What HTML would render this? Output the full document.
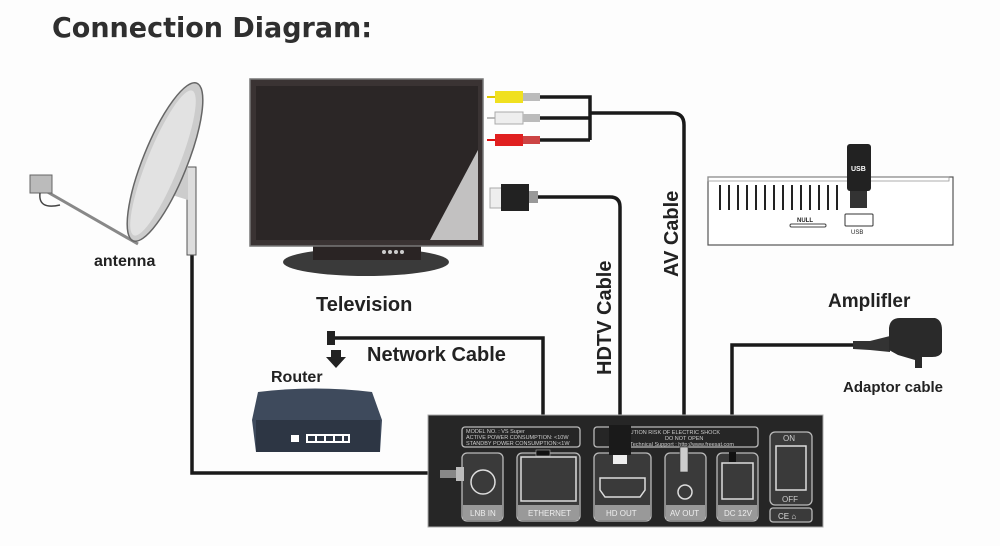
<!DOCTYPE html>
<html><head><meta charset="utf-8"><style>
html,body{margin:0;padding:0;background:#fff;}
svg{display:block;}
text{font-family:"Liberation Sans",Arial,sans-serif;font-weight:bold;fill:#222;}
</style></head><body>
<svg width="1000" height="546" viewBox="0 0 1000 546" xmlns="http://www.w3.org/2000/svg">
<rect width="1000" height="546" fill="#fdfdfd"/>
<text x="52" y="37" font-size="28" textLength="320" lengthAdjust="spacingAndGlyphs" style="font-family:'DejaVu Sans',sans-serif;fill:#2f2f2f">Connection Diagram:</text>

<!-- cables -->
<g fill="none" stroke="#1a1a1a" stroke-width="3.5">
<path d="M192 255 V473 H455"/>
<path d="M335 338 H543 V455"/>
<path d="M537 197 H610 Q620 197 620 207 V432"/>
<path d="M540 97 H590 V140 M540 118 H590 M540 140 H590 M590 113 H672 Q684 113 684 125 V452"/>
<path d="M853 345 H732 V458"/>
</g>

<!-- dish -->
<g>
<rect x="187" y="167" width="9" height="88" fill="#ddd" stroke="#555" stroke-width="1"/>
<polygon points="175,170 188,165 188,200 172,195" fill="#ccc"/>
<line x1="44" y1="190" x2="138" y2="244" stroke="#888" stroke-width="3"/>
<ellipse cx="165" cy="162" rx="22" ry="85" transform="rotate(22 165 162)" fill="#ccc" stroke="#666" stroke-width="1.5"/>
<ellipse cx="163" cy="163" rx="16" ry="78" transform="rotate(22 163 163)" fill="#e2e2e2"/>
<rect x="30" y="175" width="22" height="18" fill="#bbb" stroke="#666"/>
<path d="M40 193 Q38 210 60 205" fill="none" stroke="#444" stroke-width="1.5"/>
</g>
<text x="94" y="266" font-size="16">antenna</text>

<!-- TV -->
<ellipse cx="366" cy="262" rx="83" ry="14" fill="#3a3a3a"/>
<rect x="313" y="240" width="108" height="20" fill="#2a2424"/>
<circle cx="384" cy="252" r="2" fill="#ccc"/><circle cx="390" cy="252" r="2" fill="#ccc"/><circle cx="396" cy="252" r="2" fill="#ccc"/><circle cx="402" cy="252" r="2" fill="#ccc"/>
<rect x="250" y="79" width="233" height="167" fill="#3a3333" stroke="#777" stroke-width="1.5"/>
<rect x="256" y="86" width="222" height="154" fill="#2b2626"/>
<polygon points="478,150 478,240 430,240" fill="#ddd" opacity="0.85"/>
<text x="316" y="311" font-size="20">Television</text>

<!-- AV plugs -->
<g>
<line x1="487" y1="97" x2="495" y2="97" stroke="#e0c800" stroke-width="2"/>
<rect x="495" y="91" width="28" height="12" fill="#f0e020"/><rect x="523" y="93" width="17" height="8" fill="#bbb"/>
<line x1="487" y1="118" x2="495" y2="118" stroke="#bbb" stroke-width="2"/>
<rect x="495" y="112" width="28" height="12" fill="#eee" stroke="#aaa"/><rect x="523" y="114" width="17" height="8" fill="#bbb"/>
<line x1="487" y1="140" x2="495" y2="140" stroke="#d11" stroke-width="2"/>
<rect x="495" y="134" width="28" height="12" fill="#e02020"/><rect x="523" y="136" width="17" height="8" fill="#c44"/>
</g>
<!-- HDMI plug -->
<rect x="490" y="188" width="12" height="20" fill="#eee" stroke="#aaa"/>
<rect x="501" y="184" width="28" height="27" fill="#222"/>
<rect x="529" y="191" width="9" height="12" fill="#999"/>
<text x="0" y="0" font-size="20" transform="translate(611 375) rotate(-90)">HDTV Cable</text>
<text x="0" y="0" font-size="20" transform="translate(678 277) rotate(-90)">AV Cable</text>

<!-- network -->
<rect x="327" y="331" width="8" height="14" fill="#222"/>
<polygon points="331,350 341,350 341,357 346,357 336,368 326,357 331,357" fill="#222"/>
<text x="367" y="361" font-size="20">Network Cable</text>
<text x="271" y="382" font-size="16">Router</text>
<!-- router -->
<path d="M258 392 Q315 385 372 392 L382 420 L380 452 L256 452 L252 420 Z" fill="#3e4a5c"/>
<rect x="256" y="420" width="124" height="32" fill="#2d3644"/>
<g fill="#fff"><rect x="291" y="435" width="8" height="7"/><rect x="306" y="434" width="44" height="9"/></g>
<g fill="#2d3644"><rect x="308" y="436" width="7" height="5"/><rect x="317" y="436" width="7" height="5"/><rect x="326" y="436" width="7" height="5"/><rect x="335" y="436" width="7" height="5"/><rect x="344" y="436" width="4" height="5"/></g>

<!-- set-top front -->
<rect x="708" y="177" width="245" height="68" fill="#fff" stroke="#555" stroke-width="1.2"/>
<rect x="708" y="177" width="241" height="4" fill="none" stroke="#999" stroke-width="0.8"/>
<g stroke="#222" stroke-width="2">
<line x1="720" y1="185" x2="720" y2="210"/><line x1="729" y1="185" x2="729" y2="210"/><line x1="738" y1="185" x2="738" y2="210"/><line x1="747" y1="185" x2="747" y2="210"/><line x1="756" y1="185" x2="756" y2="210"/><line x1="765" y1="185" x2="765" y2="210"/><line x1="774" y1="185" x2="774" y2="210"/><line x1="783" y1="185" x2="783" y2="210"/><line x1="792" y1="185" x2="792" y2="210"/><line x1="801" y1="185" x2="801" y2="210"/><line x1="810" y1="185" x2="810" y2="210"/><line x1="819" y1="185" x2="819" y2="210"/><line x1="828" y1="185" x2="828" y2="210"/><line x1="837" y1="185" x2="837" y2="210"/>
</g>
<rect x="790" y="224" width="36" height="3" rx="1.5" fill="#fff" stroke="#444"/>
<text x="797" y="222" font-size="6">NULL</text>
<rect x="845" y="214" width="28" height="12" rx="1" fill="#fff" stroke="#333"/>
<text x="851" y="234" font-size="6" style="font-weight:normal">USB</text>
<rect x="847" y="144" width="24" height="47" rx="3" fill="#222"/>
<rect x="850" y="191" width="17" height="17" fill="#333"/>
<text x="851" y="171" font-size="7" style="fill:#fff">USB</text>

<!-- amplifier -->
<text x="828" y="307" font-size="19">Amplifler</text>
<text x="843" y="392" font-size="15">Adaptor cable</text>
<path d="M853 341 L870 341 L890 336 L890 352 L870 350 L853 349 Z" fill="#333"/>
<path d="M889 328 Q890 318 900 318 L935 318 Q942 320 942 330 L942 352 Q940 357 932 357 L922 357 L922 368 L915 368 L915 360 L898 355 L889 350 Z" fill="#2a2a2a"/>

<!-- back panel -->
<rect x="428" y="415" width="395" height="112" fill="#262626" stroke="#aaa" stroke-width="1"/>
<g fill="none" stroke="#bbb" stroke-width="1.3">
<rect x="462" y="427" width="118" height="20" rx="3"/>
<rect x="594" y="427" width="164" height="20" rx="3"/>
</g>
<g fill="#cfcfcf" style="font-weight:normal" font-size="5.5">
<text x="466" y="433" style="fill:#ccc;font-weight:normal">MODEL NO. : VS Super</text>
<text x="466" y="439" style="fill:#ccc;font-weight:normal">ACTIVE POWER CONSUMPTION: &lt;10W</text>
<text x="466" y="445" style="fill:#ccc;font-weight:normal">STANDBY POWER CONSUMPTION:&lt;1W</text>
<text x="622" y="434" style="fill:#ccc;font-weight:normal">CAUTION RISK OF ELECTRIC SHOCK</text>
<text x="665" y="440" style="fill:#ccc;font-weight:normal">DO NOT OPEN</text>
<text x="630" y="446" style="fill:#ccc;font-weight:normal">Technical Support : http://www.freesat.com</text>
</g>
<g fill="#3a3a3a" stroke="#bbb" stroke-width="1.3">
<rect x="462" y="453" width="41" height="68" rx="5"/>
<rect x="517" y="453" width="63" height="68" rx="5"/>
<rect x="594" y="453" width="57" height="68" rx="5"/>
<rect x="665" y="453" width="41" height="68" rx="5"/>
<rect x="717" y="453" width="41" height="68" rx="5"/>
<rect x="770" y="432" width="42" height="73" rx="5"/>
<rect x="770" y="508" width="42" height="14" rx="3"/>
</g>
<g fill="#999">
<rect x="463" y="505" width="39" height="15"/><rect x="518" y="505" width="61" height="15"/><rect x="595" y="505" width="55" height="15"/><rect x="666" y="505" width="39" height="15"/><rect x="718" y="505" width="39" height="15"/>
</g>
<g style="font-weight:normal" font-size="8">
<text x="470" y="516" style="fill:#eee;font-weight:normal">LNB IN</text>
<text x="528" y="516" style="fill:#eee;font-weight:normal">ETHERNET</text>
<text x="606" y="516" style="fill:#eee;font-weight:normal">HD OUT</text>
<text x="670" y="516" style="fill:#eee;font-weight:normal">AV OUT</text>
<text x="724" y="516" style="fill:#eee;font-weight:normal">DC 12V</text>
<text x="783" y="441" style="fill:#ccc;font-weight:normal">ON</text>
<text x="782" y="502" style="fill:#ccc;font-weight:normal">OFF</text>
<text x="778" y="519" style="fill:#ddd;font-weight:normal">CE ⌂</text>
</g>
<g fill="none" stroke="#ddd" stroke-width="1.5">
<circle cx="483" cy="482" r="12"/>
<rect x="521" y="457" width="55" height="44"/>
<path d="M600 478 H645 V490 L640 497 H605 L600 490 Z"/>
<circle cx="685" cy="492" r="7"/>
<rect x="722" y="463" width="31" height="36"/>
<rect x="776" y="446" width="30" height="44"/>
</g>
<!-- plugs on panel -->
<rect x="440" y="470" width="18" height="8" fill="#888"/><rect x="456" y="467" width="8" height="14" fill="#bbb"/>
<rect x="536" y="450" width="14" height="6" fill="#111" stroke="#aaa" stroke-width="0.6"/>
<rect x="609" y="425" width="22" height="30" fill="#1a1a1a"/>
<rect x="613" y="455" width="14" height="9" fill="#eee"/>
<rect x="680" y="447" width="8" height="25" fill="#ccc" stroke="#333" stroke-width="0.6"/>
<rect x="729" y="452" width="7" height="10" fill="#111"/>
</svg>
</body></html>
